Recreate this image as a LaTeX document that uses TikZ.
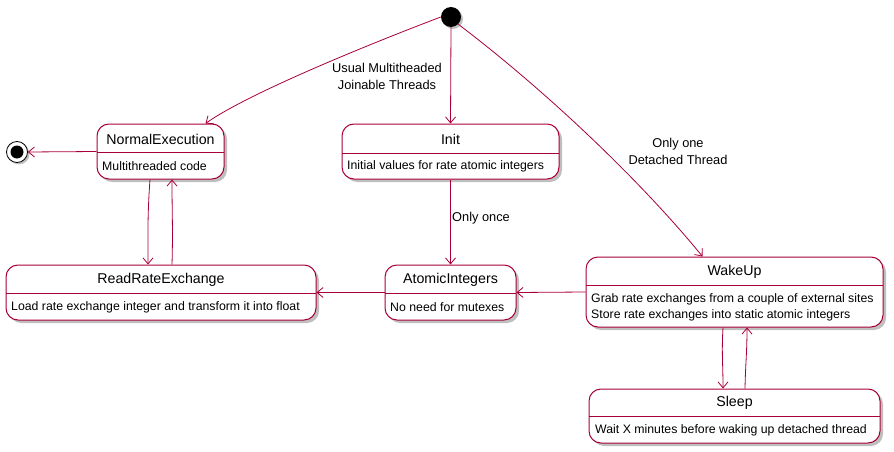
\documentclass[tikz,border=0pt]{standalone}
\usepackage{fontspec}
\setmainfont{Liberation Sans}
\usetikzlibrary{arrows.meta,shadows,calc}
\definecolor{pu}{HTML}{A80036}
\begin{document}
\begin{tikzpicture}[x=1pt,y=-1pt,
  stbox/.style={draw=pu, line width=1pt, fill=white, rounded corners=12pt,
    drop shadow={shadow xshift=3pt,shadow yshift=-3pt,opacity=0.5,fill=gray}, inner sep=0pt},
  ttl/.style={font=\fontsize{14.2}{16}\selectfont, inner sep=0pt},
  bdy/.style={font=\fontsize{12.3}{16}\selectfont, inner sep=0pt, anchor=west, align=left},
  divl/.style={draw=pu, line width=0.8pt},
  tr/.style={draw=pu, line width=0.8pt, -{Straight Barb[length=6pt,width=10pt]}},
  lbl/.style={font=\fontsize{12.8}{17}\selectfont, align=center, inner sep=0pt}
]
\useasboundingbox (0,0) rectangle (894,452);

% start and end
\node[circle, fill=black, minimum size=20pt, inner sep=0pt,
  drop shadow={shadow xshift=2pt,shadow yshift=-2pt,opacity=0.5,fill=gray}] (start) at (451,17) {};
\node[circle, draw=black, fill=white, line width=0.8pt, minimum size=21pt, inner sep=0pt,
  drop shadow={shadow xshift=2pt,shadow yshift=-2pt,opacity=0.5,fill=gray}] (end) at (17,152) {};
\node[circle, fill=black, minimum size=13pt, inner sep=0pt] (endin) at (end) {};

% NormalExecution
\node[stbox, minimum width=127pt, minimum height=55pt] (ne) at (160.5,151.5) {};
\draw[divl] (97,152) -- (224,152);
\node[ttl] (net) at (160.5,139) {NormalExecution};
\node[bdy] (neb) at (102,166) {Multithreaded code};

% Init
\node[stbox, minimum width=217pt, minimum height=55pt] (init) at (450.5,151.5) {};
\draw[divl] (342,153) -- (559,153);
\node[ttl] (initt) at (450.5,139) {Init};
\node[bdy] (initb) at (347,166) {Initial values for rate atomic integers};

% ReadRateExchange
\node[stbox, minimum width=310pt, minimum height=55pt] (rre) at (161,292.5) {};
\draw[divl] (6,293) -- (316,293);
\node[ttl] (rret) at (161,280) {ReadRateExchange};
\node[bdy] (rreb) at (11,307) {Load rate exchange integer and transform it into float};

% AtomicIntegers
\node[stbox, minimum width=131pt, minimum height=55pt] (ai) at (450.5,292.5) {};
\draw[divl] (385,293) -- (516,293);
\node[ttl] (ait) at (450.5,280) {AtomicIntegers};
\node[bdy] (aib) at (390,307) {No need for mutexes};

% WakeUp
\node[stbox, minimum width=297pt, minimum height=70pt] (wu) at (734.5,292) {};
\draw[divl] (586,285) -- (883,285);
\node[ttl] (wut) at (734.5,272) {WakeUp};
\node[bdy] (wub1) at (591,299) {Grab rate exchanges from a couple of external sites};
\node[bdy] (wub2) at (591,315) {Store rate exchanges into static atomic integers};

% Sleep
\node[stbox, minimum width=291pt, minimum height=54pt] (sl) at (734.5,416) {};
\draw[divl] (589,416) -- (880,416);
\node[ttl] (slt) at (734.5,403) {Sleep};
\node[bdy] (slb) at (595,430) {Wait X minutes before waking up detached thread};

% transitions
\draw[tr] (start.west) .. controls (380,40) and (250,92) .. ($(ne.north)+(45,0)$);
\node[lbl] (l1) at (387,76.5) {Usual Multitheaded\\Joinable Threads};

\draw[tr] (start.south) -- (init.north);

\draw[tr] (start.south east) .. controls (545,90) and (640,180) .. ($(wu.north)+(-32,0)$);
\node[lbl] (l2) at (678,151.5) {Only one\\Detached Thread};

\draw[tr] (init.south) -- (ai.north);
\node[lbl, anchor=west] (l3) at (452,218) {Only once};

\draw[tr] (wu.west) -- (ai.east);
\draw[tr] (ai.west) -- (rre.east);
\draw[tr] (ne.west) -- (end.east);

\draw[tr] ($(ne.south)+(-10.5,0)$) .. controls ($(ne.south)+(-13,35)$) and ($(rre.north)+(-13,-35)$) .. ($(rre.north)+(-13,0)$);
\draw[tr] ($(rre.north)+(11,0)$) .. controls ($(rre.north)+(12,-35)$) and ($(ne.south)+(11.5,35)$) .. ($(ne.south)+(11.5,0)$);

\draw[tr] ($(wu.south)+(-11.5,0)$) .. controls ($(wu.south)+(-13,25)$) and ($(sl.north)+(-11.5,-25)$) .. ($(sl.north)+(-11.5,0)$);
\draw[tr] ($(sl.north)+(10.5,0)$) .. controls ($(sl.north)+(11,-25)$) and ($(wu.south)+(12.5,25)$) .. ($(wu.south)+(12.5,0)$);
\end{tikzpicture}
\end{document}
